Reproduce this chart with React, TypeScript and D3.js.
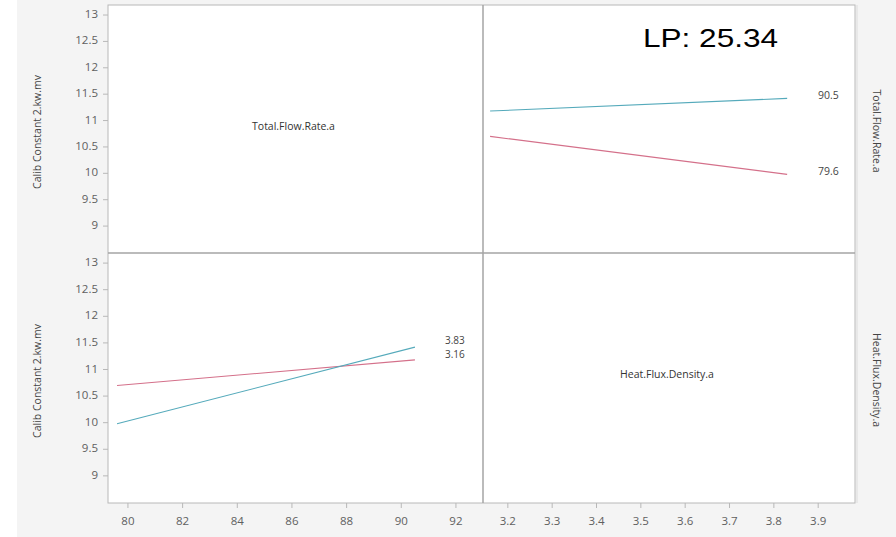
import React from "react";
import * as d3 from "d3";

// Interaction profile data: response means at factor level combinations
const flowLevels = [79.6, 90.5];           // Total.Flow.Rate.a levels
const heatLevels = [3.16, 3.83];           // Heat.Flux.Density.a levels
// response[flowIndex][heatIndex]
const respFlowLow = [10.70, 9.98];         // flow 79.6 at heat 3.16, 3.83
const respFlowHigh = [11.18, 11.42];       // flow 90.5 at heat 3.16, 3.83

const yTicks = [9, 9.5, 10, 10.5, 11, 11.5, 12, 12.5, 13];
const flowTicks = [80, 82, 84, 86, 88, 90, 92];
const heatTicks = [3.2, 3.3, 3.4, 3.5, 3.6, 3.7, 3.8, 3.9];

const yTitle = "Calib Constant 2.kw.mv";
const flowName = "Total.Flow.Rate.a";
const heatName = "Heat.Flux.Density.a";
const lpText = "LP: 25.34";

const COLORS = ["#d4708a", "#55aabb"]; // low level (pink), high level (cyan)

export default function App() {
  const W = 896, H = 537;
  const L = 108, R = 855, T = 5, B = 503, MX = 483, MY = 253;
  const font = "'Open Sans', 'DejaVu Sans', sans-serif";
  const tickCol = "#606060";

  const xFlow = d3.scaleLinear().domain([79.27, 92.99]).range([L, MX]);
  const xHeat = d3.scaleLinear().domain([3.144, 3.983]).range([MX, R]);
  const yTop = d3.scaleLinear().domain([8.49, 13.19]).range([MY, T]);
  const yBot = d3.scaleLinear().domain([8.49, 13.19]).range([B, MY]);

  const line = (xs: d3.ScaleLinear<number, number>, ys: d3.ScaleLinear<number, number>, xv: number[], yv: number[]) =>
    d3.line<number>().x((_, i) => xs(xv[i])).y((d) => ys(d))(yv) || "";

  // top-right: x = heat, one line per flow level
  const topRight = [respFlowLow, respFlowHigh];
  // bottom-left: x = flow, one line per heat level
  const botLeft = heatLevels.map((_, hi) => [respFlowLow[hi], respFlowHigh[hi]]);

  const fmt1 = d3.format(".1f");
  const fmt2 = d3.format(".2f");

  return (
    <svg width={W} height={H} style={{ position: "absolute", left: 0, top: 0 }} fontFamily={font}>
      <rect x={0} y={0} width={W} height={H} fill="#ffffff" />
      <rect x={17} y={0} width={W - 17} height={H} fill="#f4f4f4" />
      <rect x={L} y={T} width={R - L} height={B - T} fill="#ffffff" />

      {/* lines top-right */}
      {topRight.map((vals, i) => (
        <path key={"tr" + i} d={line(xHeat, yTop, heatLevels, vals)} fill="none" stroke={COLORS[i]} strokeWidth={1.1} />
      ))}
      {/* lines bottom-left */}
      {botLeft.map((vals, i) => (
        <path key={"bl" + i} d={line(xFlow, yBot, flowLevels, vals)} fill="none" stroke={COLORS[i]} strokeWidth={1.1} />
      ))}

      {/* legend labels */}
      <text x={818} y={yTop(respFlowHigh[1]) - 2} fontSize={10.5} fill="#444" dominantBaseline="middle">{fmt1(flowLevels[1])}</text>
      <text x={818} y={yTop(respFlowLow[1]) - 2} fontSize={10.5} fill="#444" dominantBaseline="middle">{fmt1(flowLevels[0])}</text>
      <text x={445} y={yBot(respFlowHigh[1]) - 6} fontSize={10} fill="#444" dominantBaseline="middle">{fmt2(heatLevels[1])}</text>
      <text x={445} y={yBot(respFlowHigh[1]) + 8} fontSize={10} fill="#444" dominantBaseline="middle">{fmt2(heatLevels[0])}</text>

      {/* diagonal panel labels */}
      <text x={(L + MX) / 2 - 2} y={(T + MY) / 2 - 2} fontSize={10.5} fill="#333" textAnchor="middle" dominantBaseline="middle">{flowName}</text>
      <text x={(MX + R) / 2 - 2} y={(MY + B) / 2 - 3} fontSize={10.5} fill="#333" textAnchor="middle" dominantBaseline="middle">{heatName}</text>

      {/* frame and dividers */}
      <rect x={L} y={T} width={R - L} height={B - T} fill="none" stroke="#b8b8b8" strokeWidth={1} />
      <line x1={MX} x2={MX} y1={T} y2={B} stroke="#a4a4a4" strokeWidth={1.5} />
      <line x1={L} x2={R} y1={MY} y2={MY} stroke="#a4a4a4" strokeWidth={1.5} />
      <line x1={R + 2} x2={R + 2} y1={T} y2={B} stroke="#dcdcdc" strokeWidth={1} />

      {/* y axes */}
      {[yTop, yBot].map((ys, pi) => (
        <g key={"ya" + pi}>
          {yTicks.map((t) => (
            <g key={t}>
              <line x1={L - 5} x2={L} y1={ys(t)} y2={ys(t)} stroke="#b8b8b8" />
              <text x={L - 10} y={ys(t)} fontSize={11.5} fill={tickCol} textAnchor="end" dominantBaseline="middle">{t}</text>
            </g>
          ))}
          <text transform={`translate(38,${(ys.range()[0] + ys.range()[1]) / 2 + 3}) rotate(-90)`} fontSize={10.5} fill="#444" textAnchor="middle" dominantBaseline="middle">{yTitle}</text>
        </g>
      ))}

      {/* x axes */}
      {flowTicks.map((t) => (
        <g key={"fx" + t}>
          <line x1={xFlow(t)} x2={xFlow(t)} y1={B} y2={B + 5} stroke="#b8b8b8" />
          <text x={xFlow(t)} y={B + 19} fontSize={11.5} fill={tickCol} textAnchor="middle" dominantBaseline="middle">{t}</text>
        </g>
      ))}
      {heatTicks.map((t) => (
        <g key={"hx" + t}>
          <line x1={xHeat(t)} x2={xHeat(t)} y1={B} y2={B + 5} stroke="#b8b8b8" />
          <text x={xHeat(t)} y={B + 19} fontSize={11.5} fill={tickCol} textAnchor="middle" dominantBaseline="middle">{fmt1(t)}</text>
        </g>
      ))}

      {/* right strip labels */}
      <text transform={`translate(876,${(T + MY) / 2 + 2}) rotate(90)`} fontSize={10.5} fill="#444" textAnchor="middle" dominantBaseline="middle">{flowName}</text>
      <text transform={`translate(876,${(MY + B) / 2 + 2}) rotate(90)`} fontSize={10.5} fill="#444" textAnchor="middle" dominantBaseline="middle">{heatName}</text>

      {/* LP annotation */}
      <text x={643} y={47} fontSize={25} fill="#000" fontFamily="'Liberation Sans', Arial, sans-serif" textLength={135} lengthAdjust="spacingAndGlyphs">{lpText}</text>
    </svg>
  );
}
